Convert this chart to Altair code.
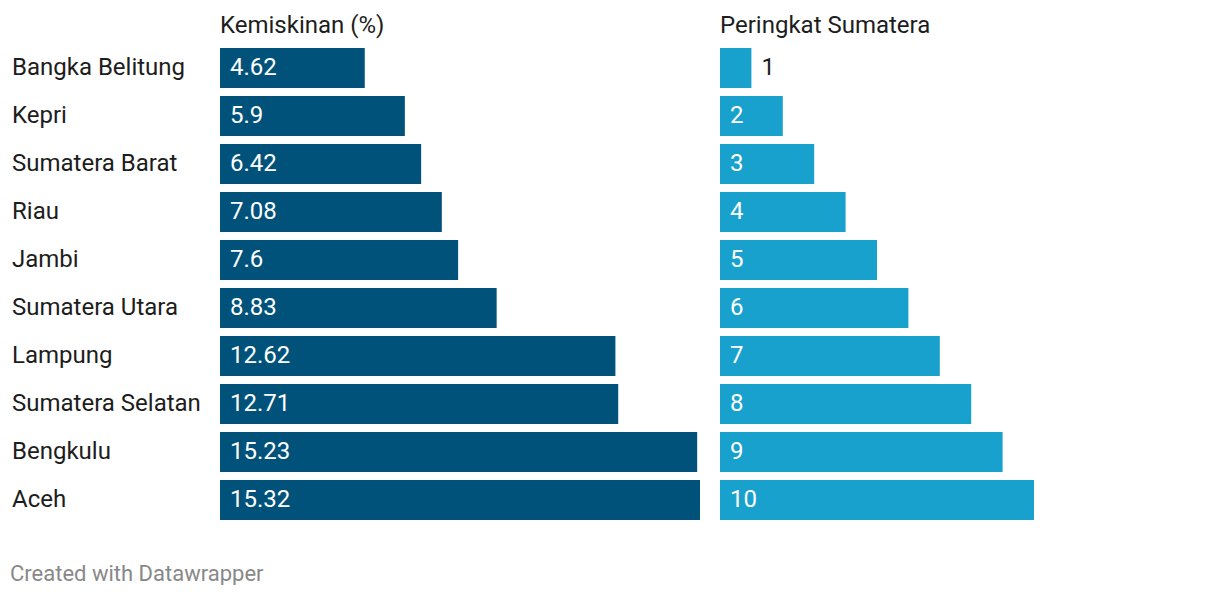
import altair as alt
import pandas as pd

regions = ["Bangka Belitung", "Kepri", "Sumatera Barat", "Riau", "Jambi",
           "Sumatera Utara", "Lampung", "Sumatera Selatan", "Bengkulu", "Aceh"]
kemiskinan = [4.62, 5.9, 6.42, 7.08, 7.6, 8.83, 12.62, 12.71, 15.23, 15.32]
peringkat = [1, 2, 3, 4, 5, 6, 7, 8, 9, 10]

df = pd.DataFrame({"region": regions, "kem": kemiskinan, "rank": peringkat})
df["kem_label"] = [str(v) for v in kemiskinan]
df["rank_label"] = [str(v) for v in peringkat]

FONT = "Roboto"
FS = 24
DARK = "#01527b"
LIGHT = "#18a1cd"
TXT = "#1d1d1d"
H = 480

yenc = alt.Y("region:N", sort=regions, axis=None,
             scale=alt.Scale(paddingInner=1/6, paddingOuter=1/12))

labels = alt.Chart(df).mark_text(align="left", baseline="middle", font=FONT,
                                 fontSize=FS, color=TXT).encode(
    y=yenc, x=alt.value(4), text="region:N"
).properties(width=192, height=H)

base1 = alt.Chart(df).encode(y=yenc)
bars1 = base1.mark_bar(color=DARK).encode(
    x=alt.X("kem:Q", axis=None, scale=alt.Scale(domain=[0, 15.32], nice=False, zero=True))
)
text1 = base1.mark_text(align="left", baseline="middle", font=FONT, fontSize=FS,
                        color="white").encode(x=alt.value(10), text="kem_label:N")
panel1 = (bars1 + text1).properties(
    width=480, height=H,
    title=alt.TitleParams("Kemiskinan (%)", anchor="start", font=FONT, fontSize=FS,
                          fontWeight="normal", color=TXT, offset=6)
)

base2 = alt.Chart(df).encode(y=yenc)
x2 = alt.X("rank:Q", axis=None, scale=alt.Scale(domain=[0, 10], nice=False, zero=True))
bars2 = base2.mark_bar(color=LIGHT).encode(x=x2)
text2_in = base2.transform_filter("datum.rank >= 2").mark_text(
    align="left", baseline="middle", font=FONT, fontSize=FS, color="white"
).encode(x=alt.value(10), text="rank_label:N")
text2_out = base2.transform_filter("datum.rank < 2").mark_text(
    align="left", baseline="middle", font=FONT, fontSize=FS, color=TXT, dx=10
).encode(x=x2, text="rank_label:N")
panel2 = (bars2 + text2_in + text2_out).properties(
    width=314, height=H,
    title=alt.TitleParams("Peringkat Sumatera", anchor="start", font=FONT, fontSize=FS,
                          fontWeight="normal", color=TXT, offset=6)
)

chart = alt.hconcat(labels, panel1, panel2, spacing=20, bounds="flush").properties(
    title=alt.TitleParams("Created with Datawrapper", orient="bottom", anchor="start",
                          font=FONT, fontSize=22, fontWeight="normal", color="#888888",
                          offset=40, dx=2)
).configure(padding={"top": 6, "left": 0, "right": 0, "bottom": 0},
            background="white").configure_view(strokeWidth=0)

chart.save("out.html", embed_options={"renderer": "svg", "actions": False})
